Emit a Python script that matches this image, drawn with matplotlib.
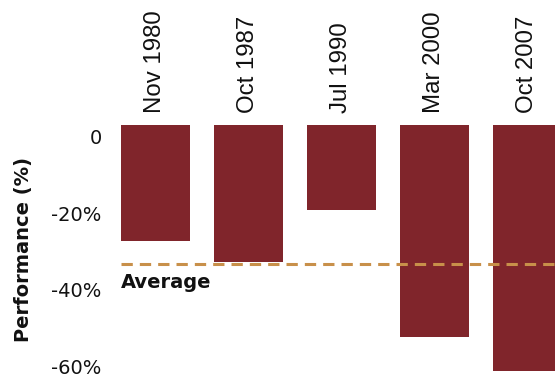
import numpy as np
import matplotlib
matplotlib.use("Agg")
import matplotlib.pyplot as plt

# données
periodes = ["Nov 1980", "Oct 1987", "Jul 1990", "Mar 2000", "Oct 2007"]
performance = [-27.2, -32.8, -19.1, -52.4, -61.3]
moyenne = -33.2
graduations = [0, -20, -40, -60]
etiquettes_y = ["0", "-20%", "-40%", "-60%"]

couleur_barre = "#80252B"
couleur_moyenne = "#C8904A"
haut_barre = 3.1  # les barres démarrent un peu au-dessus du zéro

fig = plt.figure(figsize=(5.55, 3.74), dpi=100)
ax = fig.add_axes([120.7 / 555, 0, 1 - 120.7 / 555, 1])

x = np.arange(len(periodes))
hauteurs = np.array(performance) - haut_barre
ax.bar(x, hauteurs, bottom=haut_barre, width=0.742, color=couleur_barre)

# ligne de moyenne
ax.axhline(moyenne, color=couleur_moyenne, linewidth=2.2, dashes=(3.7, 2.3))
ax.annotate("Average", xy=(-0.371, moyenne), xytext=(0, -9),
            textcoords="offset pixels", ha="left", va="top",
            fontsize=14, fontweight="bold", family="DejaVu Sans", color="#111111")

# étiquettes des périodes au-dessus des barres
for i, p in enumerate(periodes):
    ax.text(i, 6.3, p, rotation=90, ha="center", va="bottom",
            fontsize=17.3, family="Liberation Sans", color="#111111")

ax.set_xlim(-0.371, 4.30)
ax.set_ylim(-62.04, 35.86)
ax.set_xticks([])
ax.set_yticks(graduations)
ax.set_yticklabels(etiquettes_y, family="DejaVu Sans", fontsize=14, color="#111111")
ax.tick_params(axis="y", length=0, pad=13.7)
for s in ax.spines.values():
    s.set_visible(False)
ax.patch.set_alpha(0)

fig.text(24 / 555, 1 - 249 / 374, "Performance (%)", rotation=90,
         ha="center", va="center", fontsize=14, fontweight="bold",
         family="DejaVu Sans", color="#111111")

fig.savefig("out.png", dpi=100)
